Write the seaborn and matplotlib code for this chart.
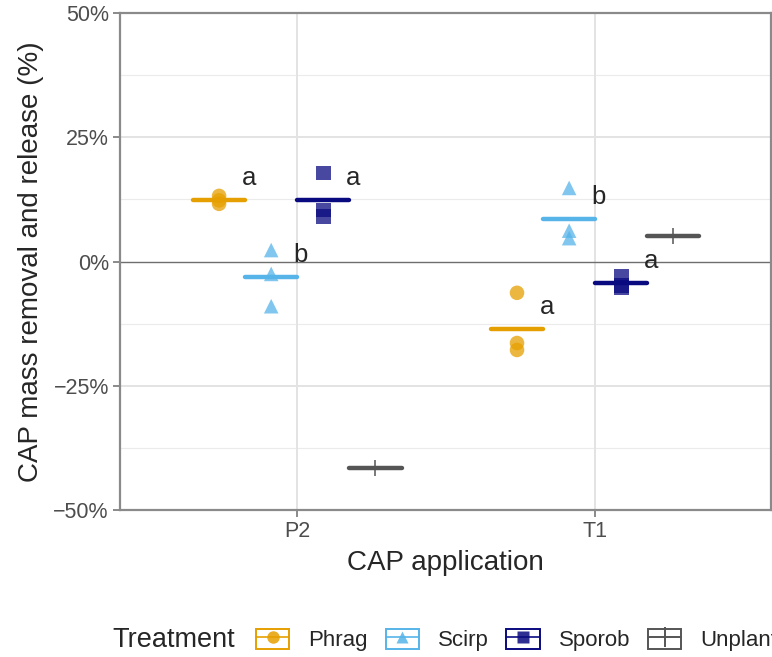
import pandas as pd
import matplotlib
matplotlib.use("Agg")
import matplotlib.pyplot as plt
import seaborn as sns
from matplotlib.patches import Rectangle
from matplotlib.lines import Line2D
from matplotlib.legend_handler import HandlerTuple
from matplotlib.ticker import FixedLocator, FuncFormatter

# data
apps = ["P2", "T1"]
treatments = ["Phrag", "Scirp", "Sporob", "Unplanted"]
point_app = ["P2"] * 10 + ["T1"] * 10
point_trt = (["Phrag"] * 3 + ["Scirp"] * 3 + ["Sporob"] * 3 + ["Unplanted"]) * 2
point_val = [13.2, 12.3, 11.6, 2.3, -2.5, -9.0, 17.8, 10.4, 9.0, -41.5,
             -6.3, -16.4, -17.8, 14.8, 6.2, 4.7, -3.0, -4.8, -5.2, 5.1]
letter_app = ["P2", "P2", "P2", "T1", "T1", "T1"]
letter_trt = ["Phrag", "Scirp", "Sporob", "Phrag", "Scirp", "Sporob"]
letter_txt = ["a", "b", "a", "a", "b", "a"]

colors = {"Phrag": "#E69F00", "Scirp": "#56B4E9", "Sporob": "#0A0A80", "Unplanted": "#555555"}
markers = {"Phrag": "o", "Scirp": "^", "Sporob": "s", "Unplanted": "+"}

df = pd.DataFrame({"app": point_app, "trt": point_trt, "val": point_val})
dodge = 0.7 / len(treatments)
offs = {t: (i - (len(treatments) - 1) / 2) * dodge for i, t in enumerate(treatments)}
df["x"] = df["app"].map({a: i for i, a in enumerate(apps)}) + df["trt"].map(offs)

sns.set_style("white")
plt.rcParams["font.family"] = ["Liberation Sans", "DejaVu Sans"]

fig = plt.figure(figsize=(7.72, 6.57), dpi=100)
ax = fig.add_axes([120 / 772, 1 - 510 / 657, 651 / 772, 497 / 657])

# grid
for y in [-37.5, -12.5, 12.5, 37.5]:
    ax.axhline(y, color="#EBEBEB", lw=0.8, zorder=0)
for y in [-50, -25, 25, 50]:
    ax.axhline(y, color="#E3E3E3", lw=1.4, zorder=0)
for x in range(len(apps)):
    ax.axvline(x, color="#E3E3E3", lw=1.4, zorder=0)
ax.axhline(0, color="#6E6E6E", lw=1.0, zorder=1)

for t in treatments:
    sub = df[df["trt"] == t]
    if markers[t] == "+":
        sns.scatterplot(data=sub, x="x", y="val", marker="+", s=120, color=colors[t],
                        linewidth=1.1, ax=ax, zorder=3, legend=False)
    else:
        sns.scatterplot(data=sub, x="x", y="val", marker=markers[t], s=110, color=colors[t],
                        alpha=0.75, edgecolor="none", ax=ax, zorder=3, legend=False)

means = df.groupby(["app", "trt"], as_index=False).agg(val=("val", "mean"), x=("x", "first"))
for _, r in means.iterrows():
    ax.hlines(r["val"], r["x"] - dodge / 2, r["x"] + dodge / 2, color=colors[r["trt"]],
              lw=3.2, zorder=4, capstyle="round")

for a, t, s in zip(letter_app, letter_trt, letter_txt):
    r = means[(means["app"] == a) & (means["trt"] == t)].iloc[0]
    ax.text(r["x"] + 0.1, r["val"] + 4.4, s, fontsize=18.5, ha="center", va="center", zorder=5)

ax.set_xlim(-0.595, 1.59)
ax.set_ylim(-50, 50)
ax.set_xticks(range(len(apps)))
ax.set_xticklabels(apps)
ax.yaxis.set_major_locator(FixedLocator([-50, -25, 0, 25, 50]))
ax.yaxis.set_major_formatter(FuncFormatter(lambda v, p: f"{v:.0f}%".replace("-", "\u2212")))
ax.tick_params(axis="both", length=5, width=1.2, color="#777777", labelcolor="#4D4D4D",
               labelsize=15.5, pad=3, left=True, bottom=True)
for sp in ax.spines.values():
    sp.set_color("#8A8A8A")
    sp.set_linewidth(1.6)
ax.set_xlabel("CAP application", fontsize=20, labelpad=6)
ax.set_ylabel("CAP mass removal and release (%)", fontsize=20, labelpad=7)

handles = []
for t in treatments:
    box = Rectangle((0, 0), 1, 1, facecolor="none", edgecolor=colors[t], lw=1.4)
    if markers[t] == "+":
        ln = Line2D([], [], color=colors[t], lw=1.4)
        vl = Line2D([], [], color=colors[t], marker="|", ms=15, mew=1.4, linestyle="none")
        handles.append((box, ln, vl))
    else:
        ln = Line2D([], [], color=colors[t], lw=1.4, marker=markers[t], ms=9,
                    mec="none", alpha=0.85)
        handles.append((box, ln))
fig.text(112 / 772, 1 - 640 / 657, "Treatment", fontsize=19.5, va="center", ha="left")
fig.legend(handles, treatments, handler_map={tuple: HandlerTuple(ndivide=1)},
           loc="center left", bbox_to_anchor=(256 / 772, 1 - 640 / 657), ncol=4,
           frameon=False, fontsize=16, handlelength=1.5, handleheight=1.0,
           handletextpad=0.85, columnspacing=0.8, borderpad=0, borderaxespad=0)

fig.savefig("out.png", dpi=100)
